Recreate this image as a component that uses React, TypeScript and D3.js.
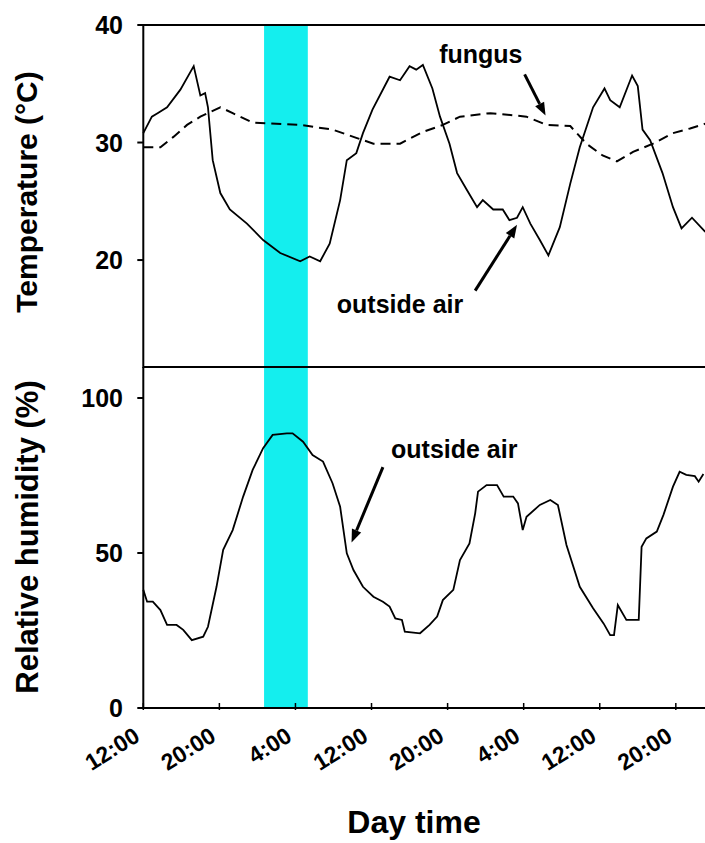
import * as d3 from "d3";

// hours after 12:00 on the first day
const tempHours = [0, 0.9, 1.5, 2.5, 3.9, 5.3, 6.0, 6.5, 6.8, 7.3, 8.1, 9.1, 10.9, 12.6, 14.4, 16.5, 17.5, 18.6, 19.6, 20.7, 21.4, 22.4, 23.1, 24.1, 25.9, 27.0, 28.0, 28.7, 29.4, 30.4, 31.2, 32.2, 33.0, 34.0, 35.1, 35.7, 36.8, 37.8, 38.5, 39.3, 39.9, 40.7, 41.7, 42.6, 43.8, 44.9, 45.9, 47.3, 48.5, 49.1, 50.1, 51.4, 52.0, 52.5, 53.3, 54.6, 55.7, 56.6, 57.7, 59.1];
const outsideTemp = [30.8, 32.2, 32.5, 33.0, 34.5, 36.5, 34.0, 34.2, 33.0, 28.5, 25.7, 24.3, 23.1, 21.7, 20.6, 19.9, 20.3, 19.9, 21.4, 25.1, 28.5, 29.1, 30.8, 32.8, 35.6, 35.3, 36.5, 36.2, 36.6, 34.6, 32.2, 29.9, 27.4, 26.0, 24.5, 25.1, 24.3, 24.3, 23.4, 23.6, 24.5, 23.1, 21.7, 20.4, 22.8, 26.5, 29.6, 33.0, 34.6, 33.6, 33.0, 35.7, 34.8, 31.1, 30.2, 27.4, 24.5, 22.7, 23.6, 22.4];

const fungusHours = [0, 1.8, 3.2, 4.6, 6.0, 8.1, 9.4, 11.5, 16.5, 19.9, 22.4, 24.2, 27.0, 29.4, 31.5, 33.3, 36.5, 40.3, 42.4, 44.9, 46.6, 48.3, 49.8, 51.5, 53.6, 55.7, 57.5, 59.1];
const fungusTemp = [29.6, 29.6, 30.5, 31.5, 32.2, 33.0, 32.5, 31.7, 31.5, 31.1, 30.4, 29.9, 29.9, 30.9, 31.5, 32.2, 32.5, 32.2, 31.5, 31.4, 29.9, 28.9, 28.4, 29.2, 29.9, 30.8, 31.2, 31.6];

const rhHours = [0, 0.4, 1.0, 1.8, 2.5, 3.5, 4.2, 5.1, 6.3, 6.8, 7.7, 8.4, 9.4, 10.5, 11.5, 12.6, 13.6, 15.1, 15.7, 16.8, 17.8, 18.9, 19.9, 20.7, 21.4, 22.1, 23.1, 24.2, 25.2, 25.9, 26.5, 27.2, 27.5, 29.1, 30.1, 30.9, 31.5, 32.6, 33.3, 34.3, 34.9, 35.2, 36.1, 37.2, 37.9, 38.9, 39.4, 39.9, 40.3, 41.7, 42.8, 43.6, 44.5, 45.9, 47.3, 48.4, 49.1, 49.5, 49.9, 50.8, 52.1, 52.4, 52.9, 54.0, 54.7, 55.7, 56.4, 57.1, 58.0, 58.4, 58.9];
const outsideRH = [38.1, 34.3, 34.3, 31.6, 26.8, 26.8, 25.2, 21.9, 23.0, 26.2, 39.1, 51.0, 57.4, 68.2, 76.8, 83.8, 88.1, 88.6, 88.6, 85.9, 81.6, 79.5, 72.5, 64.9, 49.9, 44.5, 39.1, 35.9, 34.3, 32.7, 28.9, 28.4, 24.6, 24.1, 26.8, 29.5, 34.8, 38.1, 47.7, 53.1, 62.8, 69.8, 71.9, 71.9, 68.2, 68.2, 66.0, 57.4, 61.7, 65.5, 67.1, 65.5, 52.6, 39.1, 32.2, 27.3, 23.5, 23.5, 33.2, 28.4, 28.4, 52.0, 54.7, 56.9, 62.3, 71.4, 76.2, 75.2, 74.8, 73.0, 75.5];

const xTickHours = [0, 8, 16, 24, 32, 40, 48, 56];
const xTickLabels = ["12:00", "20:00", "4:00", "12:00", "20:00", "4:00", "12:00", "20:00"];
const tempTicks = [20, 30, 40];
const rhTicks = [0, 50, 100];
const nightBand = [12.7, 17.3];

const W = 705;
const H = 843;
const left = 143.3;
const right = 705.3;
const topT = 25;
const midY = 367;
const bottomY = 708;
const font = "Arial, 'Liberation Sans', sans-serif";

type Pt = [number, number];

function Arrow({ from, to }: { from: Pt; to: Pt }) {
  const [x1, y1] = from;
  const [x2, y2] = to;
  const a = Math.atan2(y2 - y1, x2 - x1);
  const len = 13;
  const w = 5;
  const bx = x2 - len * Math.cos(a);
  const by = y2 - len * Math.sin(a);
  const px = -Math.sin(a) * w;
  const py = Math.cos(a) * w;
  return (
    <g>
      <line x1={x1} y1={y1} x2={bx} y2={by} stroke="#000" strokeWidth={3} />
      <polygon points={`${x2},${y2} ${bx + px},${by + py} ${bx - px},${by - py}`} fill="#000" />
    </g>
  );
}

export default function App() {
  const x = d3.scaleLinear().domain([0, 59.1]).range([left, right]);
  const yT = d3.scaleLinear().domain([10.9, 40]).range([midY, topT]);
  const yH = d3.scaleLinear().domain([0, 110]).range([bottomY, midY]);

  const tLine = d3.line<number>().x((_, i) => x(tempHours[i])).y((d) => yT(d));
  const fLine = d3.line<number>().x((_, i) => x(fungusHours[i])).y((d) => yT(d));
  const hLine = d3.line<number>().x((_, i) => x(rhHours[i])).y((d) => yH(d));

  return (
    <div style={{ position: "absolute", left: 0, top: 0 }}>
      <svg width={W} height={H} style={{ display: "block", background: "#fff" }} fontFamily={font} fontWeight="bold">
        <rect
          x={x(nightBand[0])}
          y={topT}
          width={x(nightBand[1]) - x(nightBand[0])}
          height={bottomY - topT}
          fill="#14eeee"
        />

        <path d={fLine(fungusTemp) ?? ""} fill="none" stroke="#000" strokeWidth={2} strokeDasharray="10,6" />
        <path d={tLine(outsideTemp) ?? ""} fill="none" stroke="#000" strokeWidth={1.8} />
        <path d={hLine(outsideRH) ?? ""} fill="none" stroke="#000" strokeWidth={1.8} />

        {/* frames */}
        <rect x={left} y={topT} width={right + 2 - left} height={midY - topT} fill="none" stroke="#000" strokeWidth={2} />
        <line x1={left} x2={right + 2} y1={bottomY} y2={bottomY} stroke="#000" strokeWidth={2} />
        <line x1={left} x2={left} y1={midY} y2={bottomY} stroke="#000" strokeWidth={2} />

        {/* y ticks */}
        {tempTicks.map((t) => (
          <g key={"t" + t}>
            <line x1={left - 6} x2={left} y1={yT(t)} y2={yT(t)} stroke="#000" strokeWidth={2} />
            <text x={123} y={yT(t)} dy="0.36em" textAnchor="end" fontSize={25}>
              {t}
            </text>
          </g>
        ))}
        {rhTicks.map((t) => (
          <g key={"h" + t}>
            <line x1={left - 6} x2={left} y1={yH(t)} y2={yH(t)} stroke="#000" strokeWidth={2} />
            <text x={123} y={yH(t)} dy="0.36em" textAnchor="end" fontSize={25}>
              {t}
            </text>
          </g>
        ))}

        {/* x ticks */}
        {xTickHours.map((h, i) => (
          <g key={"x" + i}>
            <line x1={x(h)} x2={x(h)} y1={bottomY - 5} y2={bottomY + 2} stroke="#000" strokeWidth={1.5} />
            <text
              transform={`translate(${x(h) - 2},${bottomY + 32}) rotate(-32)`}
              textAnchor="end"
              fontSize={23}
            >
              {xTickLabels[i]}
            </text>
          </g>
        ))}

        {/* axis titles */}
        <text transform="translate(37,192) rotate(-90)" textAnchor="middle" fontSize={30}>
          Temperature (°C)
        </text>
        <text transform="translate(38,537) rotate(-90)" textAnchor="middle" fontSize={31}>
          Relative humidity (%)
        </text>
        <text x={414} y={833} textAnchor="middle" fontSize={32}>
          Day time
        </text>

        {/* annotations */}
        <text x={x(35.5)} y={yT(36.8)} textAnchor="middle" fontSize={25}>
          fungus
        </text>
        <Arrow from={[x(40.1), yT(35.8)]} to={[x(42.3), yT(32.3)]} />
        <text x={x(27.0)} y={yT(15.5)} textAnchor="middle" fontSize={25}>
          outside air
        </text>
        <Arrow from={[x(34.9), yT(17.4)]} to={[x(39.3), yT(23.0)]} />
        <text x={x(32.7)} y={yH(80.6)} textAnchor="middle" fontSize={25}>
          outside air
        </text>
        <Arrow from={[x(25.2), yH(77.7)]} to={[x(21.9), yH(53.4)]} />
      </svg>
    </div>
  );
}
